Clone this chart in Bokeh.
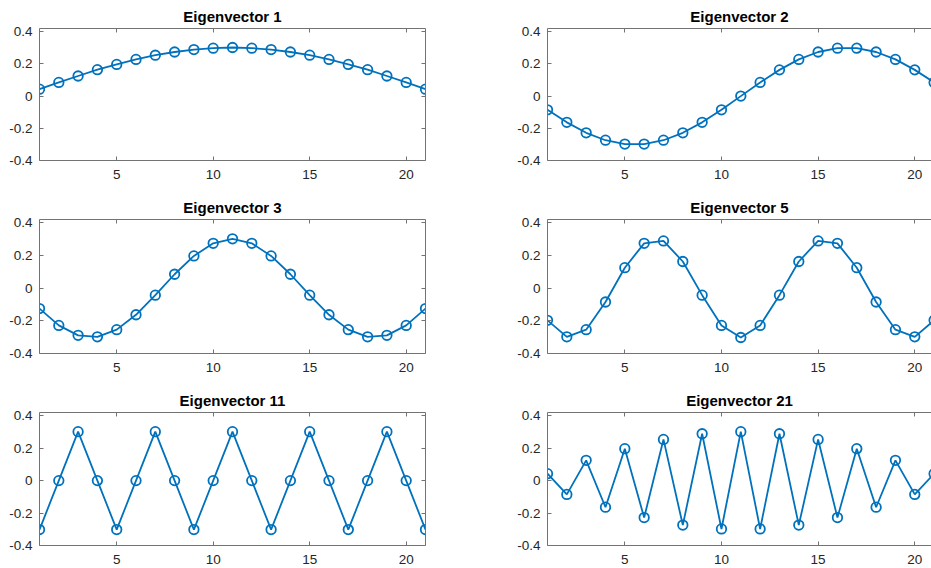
from bokeh.plotting import figure
from bokeh.models import LinearAxis, FixedTicker, Range1d
from bokeh.layouts import column, row
from bokeh.embed import file_html
from bokeh.resources import INLINE

# ---- data ----
x_index = list(range(1, 22))
ev1 = [0.043, 0.085, 0.125, 0.164, 0.197, 0.228, 0.254, 0.274, 0.289, 0.298, 0.302,
       0.298, 0.289, 0.274, 0.254, 0.228, 0.197, 0.164, 0.125, 0.085, 0.043]
ev2 = [-0.085, -0.163, -0.228, -0.274, -0.298, -0.298, -0.274, -0.228, -0.163, -0.085, 0.0,
       0.085, 0.163, 0.228, 0.274, 0.298, 0.298, 0.274, 0.228, 0.163, 0.085]
ev3 = [-0.125, -0.228, -0.289, -0.298, -0.254, -0.163, -0.043, 0.085, 0.197, 0.274, 0.302,
       0.274, 0.197, 0.085, -0.043, -0.163, -0.254, -0.298, -0.289, -0.228, -0.125]
ev5 = [-0.197, -0.298, -0.254, -0.085, 0.125, 0.274, 0.289, 0.163, -0.043, -0.228, -0.302,
       -0.228, -0.043, 0.163, 0.289, 0.274, 0.125, -0.085, -0.254, -0.298, -0.197]
ev11 = [-0.302, 0.0, 0.302, 0.0, -0.302, 0.0, 0.302, 0.0, -0.302, 0.0, 0.302,
        0.0, -0.302, 0.0, 0.302, 0.0, -0.302, 0.0, 0.302, 0.0, -0.302]
ev21 = [0.043, -0.085, 0.125, -0.164, 0.197, -0.228, 0.254, -0.274, 0.289, -0.298, 0.302,
        -0.298, 0.289, -0.274, 0.254, -0.228, 0.197, -0.164, 0.125, -0.085, 0.043]
titles = ["Eigenvector 1", "Eigenvector 2", "Eigenvector 3",
          "Eigenvector 5", "Eigenvector 11", "Eigenvector 21"]
x_ticks = [5, 10, 15, 20]
y_ticks = [-0.4, -0.2, 0, 0.2, 0.4]
y_tick_labels = ["-0.4", "-0.2", "0", "0.2", "0.4"]

BLUE = "#0072BD"
AX = "#737373"
TXT = "#262626"
FONT = "Liberation Sans"


def style_axis(ax, ticks, labels=None):
    ax.ticker = FixedTicker(ticks=ticks)
    ax.axis_line_color = AX
    ax.axis_line_width = 1
    ax.major_tick_line_color = AX
    ax.major_tick_line_width = 1
    ax.major_tick_in = 4
    ax.major_tick_out = 0
    ax.minor_tick_line_color = None
    ax.axis_label = None
    if labels is None:
        ax.major_label_text_font_size = "0px"
        ax.major_label_standoff = 0
        ax.major_label_text_color = None
    else:
        ax.major_label_text_font = FONT
        ax.major_label_text_font_size = "13.5px"
        ax.major_label_text_color = TXT
        ax.major_label_standoff = 7
        if labels:
            ax.major_label_overrides = labels


def make(title, y, width, height, bl, br, bt, bb, xend, right_axis):
    p = figure(width=width, height=height, x_range=Range1d(1, xend),
               y_range=Range1d(-0.4, 0.42), output_backend="svg",
               toolbar_location=None, min_border_left=bl, min_border_right=br,
               min_border_top=bt, min_border_bottom=bb)
    p.outline_line_color = None
    p.grid.visible = False
    p.background_fill_color = "white"
    p.border_fill_color = "white"
    style_axis(p.xaxis[0], x_ticks, {})
    p.xaxis[0].major_label_standoff = 9
    style_axis(p.yaxis[0], y_ticks,
               {float(t): s for t, s in zip(y_ticks, y_tick_labels)})
    top = LinearAxis()
    style_axis(top, x_ticks)
    p.add_layout(top, "above")
    if right_axis:
        r = LinearAxis()
        style_axis(r, y_ticks)
        p.add_layout(r, "right")
    p.title.text = title
    p.title.align = "center"
    p.title.text_font = FONT
    p.title.text_font_style = "bold"
    p.title.text_font_size = "15px"
    p.title.text_color = "#000000"
    p.title.standoff = 7
    p.line(x_index, y, line_color=BLUE, line_width=1.8)
    p.scatter(x_index, y, marker="circle", size=9.5, fill_color=None,
              line_color=BLUE, line_width=1.8)
    return p


series = [ev1, ev2, ev3, ev5, ev11, ev21]
row_specs = [(190, 28, 30), (192, 29, 29), (186, 30, 23)]
rows = []
for i, (h, bt, bb) in enumerate(row_specs):
    pl = make(titles[2 * i], series[2 * i], 465, h, 39, 40, bt, bb, 21, True)
    pr = make(titles[2 * i + 1], series[2 * i + 1], 466, h, 82, 0, bt, bb,
              1 + 384 / 19.33, False)
    rows.append(row(pl, pr))

layout = column(*rows)
open("out.html", "w").write(file_html(layout, INLINE))
